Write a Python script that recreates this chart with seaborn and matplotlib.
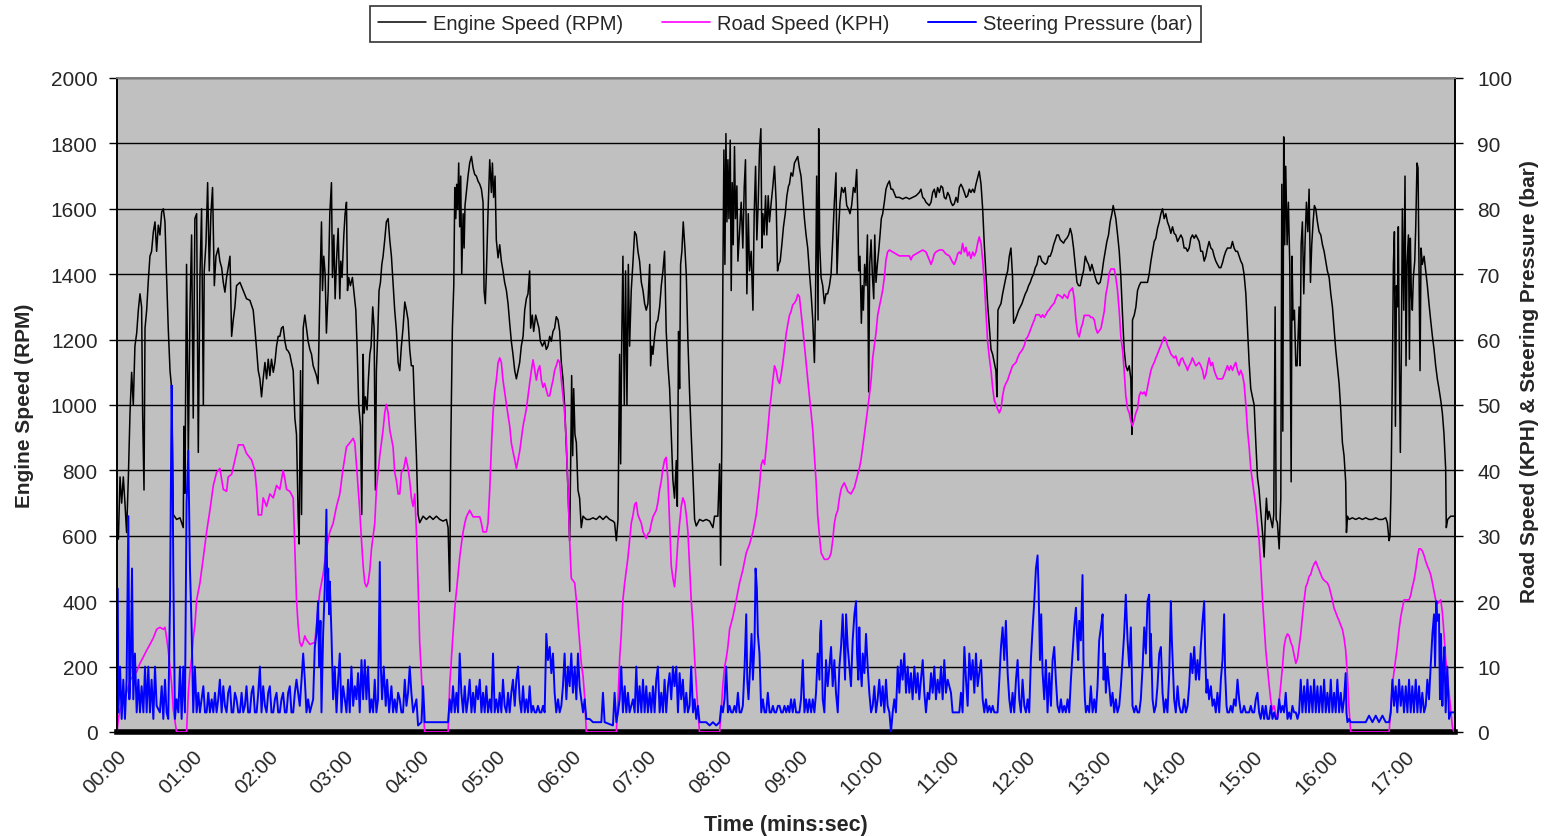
import numpy as np
import pandas as pd
import matplotlib
matplotlib.use("Agg")
import matplotlib.pyplot as plt
import matplotlib.transforms as mtrans
from matplotlib.lines import Line2D
import seaborn as sns

# ---------------- data (time in seconds, value) ----------------
engine_speed = [
(0.0,600),(1.1,590),(2.4,780),(3.7,700),(5.0,780),(6.3,700),(7.6,610),(9.0,780),(10.3,975),(11.6,1100),(12.9,1000),(14.2,1180),(15.6,1220),(16.9,1290),(18.2,1340),(19.5,1300),(20.3,975),(21.4,740),(22.2,1235),(23.5,1290),(24.8,1380),(26.1,1455),(27.4,1470),(28.8,1530),(30.1,1560),(31.4,1470),(32.7,1550),(34.0,1520),(35.4,1590),(36.7,1600),(38.0,1560),(39.3,1390),(40.6,1235),(42.0,1105),(43.3,1050),(44.6,665),(47.2,650),(49.9,655),(51.2,640),(52.5,625),(53.0,935),(53.8,730),(55.1,1430),(56.5,845),(57.8,1290),(59.1,1520),(60.4,960),(61.7,1570),(63.1,1585),(64.4,855),(65.7,1390),(67.0,1600),(68.4,1000),(69.1,1410),(70.5,1495),(71.8,1680),(73.1,1410),(74.4,1585),(75.7,1665),(77.1,1365),(78.4,1455),(80.2,1480),(81.5,1440),(82.9,1420),(84.2,1375),(85.5,1345),(86.8,1390),(88.1,1420),(89.5,1455),(90.8,1210),(92.1,1260),(93.4,1300),(94.7,1365),(97.4,1375),(100.0,1350),(102.6,1325),(105.3,1320),(107.9,1290),(109.2,1235),(110.6,1170),(111.9,1105),(113.2,1080),(114.5,1025),(115.8,1080),(117.2,1130),(118.5,1080),(119.8,1140),(121.1,1090),(122.4,1140),(123.8,1100),(125.1,1130),(126.4,1180),(127.7,1210),
(129.0,1210),(130.3,1235),(131.6,1240),(133.0,1195),(134.3,1170),(135.6,1165),(136.9,1155),(138.2,1130),(139.6,1105),(140.9,960),(142.2,910),(143.5,665),(144.3,575),(145.4,1105),(146.2,665),(147.5,1235),(148.8,1275),(150.1,1235),(151.4,1195),(152.8,1170),(154.1,1155),(155.4,1120),(156.7,1105),(158.0,1090),(159.3,1065),(160.1,1220),(161.2,1430),(162.0,1560),(162.8,1350),(163.8,1455),(164.9,1400),(165.9,1220),(167.3,1350),(168.6,1585),(169.9,1680),(170.7,1390),(171.8,1520),(172.8,1325),(173.9,1440),(175.2,1540),(176.5,1325),(177.3,1440),(178.3,1390),(179.7,1520),(180.7,1585),(181.8,1620),(182.6,1350),(183.6,1390),(184.9,1365),(186.5,1390),(187.6,1350),(189.2,1290),(190.2,1180),(191.5,1000),(192.9,935),(193.9,665),(195.0,1155),(195.8,975),(196.8,1025),(198.1,985),(199.2,1080),(200.3,1155),(201.3,1180),(202.6,1300),(203.7,1235),(204.7,740),(205.5,1105),(206.6,1220),(207.6,1350),(208.7,1375),(209.8,1430),(210.8,1455),(212.1,1505),(213.4,1560),(214.8,1570),(216.1,1505),(217.4,1455),(218.7,1375),(220.0,1290),(221.4,1225),(222.7,1130),(224.0,1105),(225.3,1180),(226.6,1235),(228.0,1315),(229.3,1290),(230.6,1260),(231.9,1170),(233.2,1120),(234.6,1120),(235.9,975),(237.2,845),(238.5,665),(239.8,640),(242.5,660),(245.1,650),(247.8,660),(250.4,650),(253.0,660),(255.7,650),(258.3,645),(261.0,650),(262.3,625),
(263.6,430),(264.4,870),(265.7,1235),(266.8,1365),(267.6,1665),(268.4,1570),(269.1,1675),(269.9,1600),(270.7,1740),(271.5,1545),(272.3,1700),(273.1,1400),(274.2,1585),(275.0,1480),(275.7,1610),(276.8,1650),(278.1,1700),(279.4,1740),(280.8,1760),(282.1,1725),(283.4,1705),(284.7,1700),(286.0,1685),(287.4,1675),(288.7,1660),(290.0,1620),(290.8,1350),(291.8,1310),(292.6,1400),(293.9,1585),(295.3,1750),(296.6,1650),(297.4,1740),(298.4,1635),(299.5,1700),(300.5,1505),(301.9,1450),(303.2,1490),(304.5,1440),(305.8,1410),(307.1,1375),(308.5,1350),(309.8,1310),(311.1,1250),(312.4,1195),(313.7,1155),(315.1,1105),(316.4,1080),(317.7,1105),(319.0,1130),(320.3,1180),(321.7,1210),(323.0,1290),(324.3,1325),(325.6,1340),(326.9,1410),(327.7,1235),(329.0,1275),(330.1,1225),(331.7,1275),(332.7,1260),(334.3,1235),(335.4,1195),(337.0,1180),(338.8,1195),(340.1,1170),(341.4,1180),(342.8,1210),(344.1,1195),(345.4,1225),(346.7,1235),(348.0,1270),(349.4,1260),(350.7,1225),(352.0,1130),(353.3,1080),(354.6,1000),(356.0,870),(357.3,740),(358.6,585),(359.4,820),(360.2,1090),(361.0,845),(361.8,1050),(362.8,910),(363.9,885),(365.2,740),(366.5,715),(367.8,625),(369.2,660),(371.8,650),(374.4,650),(377.1,655),(379.7,650),(382.4,660),(385.0,650),(387.6,660),(390.3,650),(392.9,645),(394.2,640),(395.6,585),(396.9,650),
(398.2,1155),(399.0,820),(399.8,1180),(400.8,1455),(401.9,1000),(402.9,1410),(404.0,1000),(405.1,1430),(406.1,1180),(407.4,1350),(408.8,1440),(410.1,1530),(411.4,1520),(412.7,1470),(414.0,1440),(415.4,1375),(416.7,1350),(418.0,1310),(419.3,1290),(420.6,1310),(422.0,1430),(422.7,1120),(423.8,1180),(424.6,1155),(425.9,1210),(427.2,1250),(428.5,1260),(429.9,1300),(431.2,1365),(432.5,1410),(433.8,1470),(435.1,1225),(436.5,1120),(437.8,1050),(439.1,910),(440.4,770),(441.7,715),(443.1,830),(443.9,690),(444.9,1225),(445.7,1050),(446.5,1430),(447.5,1470),(448.6,1560),(449.9,1480),(451.0,1400),(452.3,1195),(453.6,1040),(454.9,910),(456.3,780),(457.6,650),(458.9,630),(461.5,650),(464.2,645),(466.8,650),(469.5,645),(472.1,625),(473.4,660),(476.0,660),(477.4,820),(478.2,510),(479.2,910),(480.0,1390),(480.8,1780),(481.6,1430),(482.4,1830),(483.2,1560),(484.0,1750),(484.8,1570),(485.8,1810),(486.6,1350),(487.4,1680),(488.2,1490),(489.2,1790),(490.0,1570),(491.1,1670),(491.9,1440),(493.2,1530),(494.5,1620),(495.8,1480),(496.9,1665),(497.9,1750),(499.0,1340),(500.1,1585),(501.1,1410),(502.4,1470),(503.8,1290),(504.8,1585),(505.9,1730),(506.9,1505),(508.0,1620),(509.0,1780),(510.1,1845),(510.9,1480),(511.7,1585),(512.7,1520),(513.8,1640),(514.8,1520),(515.9,1640),(516.9,1560),(518.3,1620),(519.6,1670),(520.9,1730),(522.2,1620),(523.3,1410),(524.3,1430),(525.4,1440),(526.7,1490),(528.0,1545),(529.4,1585),(530.7,1640),(532.0,1670),
(532.7,1675),(534.0,1710),(535.3,1700),(536.7,1740),(538.0,1750),(539.3,1760),(540.6,1725),(541.9,1700),(543.3,1635),(544.6,1570),(545.9,1520),(547.2,1480),(548.5,1410),(549.9,1340),(551.2,1260),(552.5,1130),(553.3,1290),(554.3,1700),(555.4,1260),(555.9,1845),(556.7,1490),(557.8,1390),(559.1,1365),(560.4,1310),(561.7,1340),(563.0,1340),(564.4,1365),(565.7,1400),(567.0,1505),(568.3,1620),(569.6,1710),(570.4,1400),(571.8,1545),(572.8,1620),(574.1,1665),(575.5,1650),(576.8,1665),(578.1,1610),(579.4,1600),(580.7,1585),(582.0,1610),(583.4,1665),(584.7,1650),(586.0,1720),(586.8,1600),(587.6,1410),(588.6,1455),(589.7,1250),(590.5,1365),(591.3,1290),(592.3,1430),(593.4,1365),(594.5,1520),(595.5,1040),(596.3,1430),(597.4,1505),(598.4,1400),(599.5,1325),(600.3,1520),(601.3,1375),(602.4,1430),(603.4,1470),(604.5,1520),(605.5,1570),(606.6,1585),(607.9,1620),(609.2,1660),(610.5,1675),(611.9,1685),(613.2,1660),(614.5,1660),(617.1,1635),(619.8,1635),(622.4,1630),(625.1,1635),(627.7,1630),(630.3,1635),(633.0,1640),(635.6,1650),(636.9,1660),(638.3,1635),(639.6,1630),(640.9,1620),(642.2,1615),(643.5,1610),(644.9,1620),(646.2,1650),(647.5,1660),(648.8,1635),(650.1,1665),(651.5,1650),(652.8,1670),(654.1,1665),(655.4,1635),(656.7,1630),(658.1,1650),(659.4,1640),(660.7,1620),(662.0,1610),(663.3,1615),(664.7,1635),(666.0,1620),
(667.3,1665),(668.6,1675),(669.9,1665),(671.3,1650),(672.6,1635),(673.9,1640),(675.2,1660),(676.5,1650),(677.9,1660),(679.2,1650),(680.5,1675),(681.8,1695),(683.1,1715),(684.5,1675),(685.8,1600),(687.1,1490),(688.4,1400),(689.7,1310),(691.1,1235),(692.4,1170),(693.7,1155),(695.0,1130),(696.3,1105),(697.1,1025),(697.9,1290),(699.0,1300),(700.3,1310),(701.6,1340),(702.9,1365),(704.2,1390),(705.6,1410),(706.9,1455),(708.2,1480),(709.5,1390),(710.3,1250),(711.6,1260),(713.0,1275),(714.3,1290),(715.6,1300),(716.9,1310),(718.2,1325),(719.6,1340),(720.9,1350),(722.2,1365),(723.5,1375),(724.8,1390),(726.1,1400),(727.5,1420),(728.8,1430),(730.1,1455),(731.4,1455),(732.7,1440),(734.1,1435),(735.4,1430),(736.7,1435),(738.0,1455),(739.3,1455),(740.7,1470),(742.0,1490),(743.3,1505),(744.6,1520),(745.9,1520),(747.3,1505),(748.6,1500),(749.9,1495),(751.2,1505),(752.5,1510),(753.9,1520),(755.2,1540),(756.5,1520),(757.8,1480),(759.1,1430),(760.5,1375),(761.8,1365),(763.1,1365),(764.4,1390),(765.7,1410),(767.1,1455),(768.4,1440),(769.7,1430),(771.0,1410),(772.3,1430),(773.7,1410),(775.0,1390),(776.3,1375),(777.6,1370),(778.9,1375),(780.2,1400),(781.6,1440),(782.9,1470),(784.2,1500),(785.5,1520),(786.8,1560),(788.2,1585),(789.2,1610),(790.3,1590),(791.3,1570),(792.7,1520),(794.0,1470),(795.3,1390),(796.6,1275),(797.9,1170),(799.2,1120),(800.6,1105),
(801.9,1120),(803.2,1080),(804.0,910),(804.5,1260),(805.9,1275),(807.2,1300),(808.5,1350),(809.8,1365),(811.1,1375),(813.8,1375),(816.4,1375),(817.7,1400),(819.1,1440),(820.4,1470),(821.7,1500),(823.0,1510),(824.3,1540),(825.7,1560),(827.0,1585),(828.3,1600),(829.6,1570),(830.9,1585),(832.2,1560),(833.6,1545),(834.9,1525),(836.2,1545),(837.5,1525),(838.8,1520),(840.2,1500),(841.5,1510),(842.8,1520),(844.1,1510),(845.4,1480),(846.8,1480),(848.1,1470),(849.4,1480),(850.7,1510),(852.0,1520),(853.4,1510),(854.7,1520),(856.0,1510),(857.3,1500),(858.6,1470),(860.0,1470),(861.3,1440),(862.6,1455),(863.9,1480),(865.2,1500),(866.6,1480),(867.9,1475),(869.2,1455),(870.5,1440),(871.8,1430),(873.2,1420),(874.5,1420),(875.8,1435),(877.1,1455),(878.4,1470),(879.7,1480),(882.4,1480),(883.7,1500),(885.0,1480),(886.3,1470),(887.7,1470),(889.0,1455),(890.3,1440),(891.6,1430),(892.9,1400),(894.3,1340),(895.6,1235),(896.9,1130),(898.2,1050),(899.5,1025),(900.9,1000),(902.2,885),(903.5,780),(904.8,740),(906.1,675),(907.5,610),(908.8,535),(909.6,635),(910.6,715),(911.7,650),(912.7,675),(914.1,650),(915.4,625),(916.4,665),(917.5,1300),(918.3,650),(919.3,640),(920.7,560),(922.0,715),(922.8,1675),(923.6,920),(924.3,1820),(925.1,1490),(925.9,1730),(927.0,1490),(928.0,1620),(929.1,1430),(930.2,765),(930.9,1455),(931.7,1260),(932.8,1290),(933.9,1120),(934.9,1120),(935.9,1235),
(936.5,1300),(937.3,1120),(938.1,1490),(939.1,1560),(940.2,1340),(941.3,1510),(942.3,1620),(943.4,1530),(944.4,1660),(945.5,1375),(946.5,1490),(947.6,1560),(948.6,1610),(949.7,1600),(951.0,1560),(952.3,1530),(953.7,1520),(955.0,1490),(956.3,1470),(957.6,1440),(958.9,1410),(960.3,1390),(961.6,1340),(962.9,1300),(964.2,1235),(965.5,1170),(966.8,1120),(968.2,1065),(969.5,985),(970.8,885),(972.1,845),(973.4,765),(974.0,610),(974.8,660),(976.1,650),(978.7,655),(981.4,650),(984.0,655),(986.6,650),(989.3,655),(991.9,650),(994.6,650),(997.2,655),(999.8,650),(1002.5,650),(1005.1,655),(1006.4,640),(1007.8,585),(1008.5,600),(1009.3,740),(1010.4,1105),(1011.2,1430),(1012.0,1530),(1012.8,935),(1013.6,1365),(1014.4,1300),(1015.1,1545),(1015.9,1140),(1016.7,855),(1017.5,1170),(1018.3,1600),(1019.4,1290),(1020.4,1700),(1021.2,1120),(1022.0,1430),(1023.1,1520),(1023.9,1140),(1024.6,1510),(1025.4,1340),(1026.2,1290),(1027.0,1390),(1028.1,1440),(1028.9,1545),(1029.9,1740),(1030.7,1725),(1031.5,1430),(1032.3,1105),(1033.1,1480),(1034.1,1430),(1035.5,1455),(1036.8,1410),(1038.1,1365),(1039.4,1310),(1040.7,1260),(1042.1,1210),(1043.4,1170),(1044.7,1120),(1046.0,1080),(1047.3,1050),(1048.7,1015),(1050.0,975),(1051.3,910),(1052.6,805),(1053.1,625),(1054.2,650),(1056.6,660),(1059.2,660),
]

road_speed = [
(0.0,0),(1.1,2),(2.4,3.4),(5.0,4.7),(7.6,6),(10.3,7.9),(12.9,8.6),(15.6,9.2),(18.2,10.5),(20.9,11.5),(23.5,12.5),(26.1,13.4),(28.8,14.4),(31.4,15.7),(34.0,16),(36.7,15.7),(38.0,16),(39.3,14.4),(40.6,12.5),(42.0,9.9),(43.3,7.3),(44.6,3.4),(47.2,0),(55.1,0),(56.5,6),(57.8,9.2),(59.1,11.2),(60.4,14.4),(61.7,16.3),(63.1,20.2),(65.7,22.8),(68.4,26.7),(71.0,30.6),(73.6,33.9),(76.3,37.7),(78.9,39.7),(81.5,40.3),(84.2,37.1),(86.8,36.8),(88.1,39),(90.8,39.4),(93.4,41.6),(96.1,43.9),(100.0,43.9),(102.6,42.6),(106.6,41.6),(109.2,40),(110.6,37.1),(111.9,33.2),(114.5,33.2),(115.8,35.8),(118.5,34.5),(121.1,36.4),(123.8,35.8),(126.4,37.7),
(129.0,37.1),(131.6,40),(133.0,38.7),(134.3,37.1),(136.9,36.8),(139.6,35.8),(140.9,28),(142.2,20.2),(143.5,16.3),(144.8,13.7),(146.2,13.1),(147.5,13.7),(148.8,14.7),(150.1,14.1),(152.8,13.4),(156.7,13.7),(158.0,16.3),(159.3,18.9),(160.7,21.5),(163.3,24.1),(165.9,28),(168.6,30.6),(171.2,31.9),(173.9,34.5),(176.5,36.4),(179.1,40.3),(181.8,43.6),(184.4,44.2),(187.1,44.9),(188.4,44.2),(189.7,40.9),(192.3,33.9),(193.7,29.3),(195.0,25.4),(196.3,22.8),(197.6,22.2),(198.9,22.8),(200.3,24.8),(201.6,28),(204.2,31.9),(205.5,37.1),(208.2,42.3),(210.8,46.2),(212.1,48.8),(213.4,50.1),(214.8,48.8),(216.1,46.2),(218.7,43.6),(220.0,39.7),(221.4,38.4),(222.7,36.4),(224.0,36.4),(225.3,39.7),(227.2,40.3),(228.8,42),(230.6,40.3),(231.9,38.4),(233.2,35.8),(234.6,34.5),(235.9,36.4),(237.2,30.6),(238.5,22.8),(239.8,13.7),(241.2,8.6),(242.5,3.4),(243.8,0),(262.3,0),
(263.6,7.3),(264.9,11.2),(266.2,15),(267.6,18.9),(268.9,21.5),(270.2,24.1),(271.5,26.7),(272.8,28.7),(274.2,30.6),(275.5,31.9),(276.8,32.9),(279.4,33.9),(282.1,32.9),(287.4,32.9),(288.7,31.9),(290.0,30.6),(292.6,30.6),(293.9,31.9),(295.3,37.1),(296.6,43.6),(297.9,48.8),(299.2,52),(300.5,53.8),(301.9,56.5),(303.2,57.2),(304.5,56.5),(305.8,53.8),(308.5,50.1),(311.1,46.8),(312.4,44.2),(313.7,42.9),(315.1,41.6),(316.4,40.3),(317.7,41.6),(319.0,42.9),(321.7,46.8),(324.3,49.4),(325.6,51.4),(326.9,53.3),(328.3,55.3),(329.6,56.9),(330.9,55.3),(332.2,53.8),(333.5,55.3),(334.9,56),(336.2,53.8),(337.5,52.7),(338.8,53.3),(340.1,52.3),(341.4,51.4),(342.8,51.4),(344.1,52.7),(345.4,53.8),(346.7,55.3),(348.0,56),(349.4,56.9),(350.7,56.5),(352.0,53.8),(353.3,51.4),(354.6,48.8),(356.0,44.2),(357.3,37.1),(358.6,29.3),(359.9,23.5),(362.6,22.8),(363.9,20.2),(365.2,17),(366.5,13.7),(367.8,10.5),(369.2,8.6),(370.5,5.3),(371.8,0),(395.6,0),(396.9,4.7),
(398.2,11.2),(399.5,15),(400.8,20.2),(402.2,22.8),(403.5,24.8),(404.8,26.7),(406.1,29.3),(407.4,31.9),(408.8,33.2),(410.1,34.8),(411.4,35.1),(412.7,33.2),(415.4,31.9),(416.7,30.6),(419.3,29.6),(420.6,30.3),(422.0,30.6),(423.3,31.9),(424.6,32.9),(427.2,33.9),(428.5,35.1),(429.9,37.1),(431.2,38.4),(432.5,40.3),(433.8,41.6),(435.1,42),(436.5,38.4),(437.8,31.9),(439.1,25.4),(440.4,23.5),(441.7,22.2),(443.1,25.4),(444.4,29.3),(445.7,31.9),(447.0,34.5),(448.3,35.8),(449.7,35.1),(451.0,33.2),(452.3,30.6),(453.6,25.4),(454.9,20.2),(456.3,16.3),(457.6,11.2),(458.9,7.3),(460.2,3.4),(461.5,0),(477.4,0),(478.7,3.4),(480.0,7.3),(481.3,9.9),(482.6,11.2),(484.0,13.1),(485.3,15.7),(487.9,17.6),(490.6,20.2),(493.2,22.8),(495.8,24.8),(498.5,27.4),(501.1,28.7),(503.8,30.6),(506.4,33.2),(509.0,37.7),(510.4,40.9),(511.7,41.6),(513.0,40.9),(514.3,43.6),(515.6,46.2),(517.0,49.4),(518.3,51.4),(519.6,53.8),(520.9,56),(522.2,55.3),(523.6,53.8),(524.9,53.3),(526.2,54.7),(527.5,56.5),(528.8,58.5),(530.2,61),(531.5,62.4),
(532.7,63.7),(534.0,64.3),(535.3,65.3),(536.7,65.6),(538.0,66),(539.3,66.9),(540.6,66.6),(541.9,64.3),(543.3,61.7),(544.6,59.1),(545.9,56.5),(547.2,53.8),(548.5,51.4),(549.9,48.8),(551.2,46.2),(552.5,42.3),(553.8,38.4),(555.1,33.2),(556.5,30),(557.8,27.4),(560.4,26.4),(563.0,26.4),(564.4,26.7),(565.7,27.4),(567.0,29.3),(568.3,31.9),(569.6,33.2),(571.0,33.9),(572.3,35.8),(573.6,37.1),(574.9,37.7),(576.2,38.1),(578.9,36.8),(581.5,36.4),(584.2,37.4),(585.5,38.4),(586.8,39.4),(588.1,40.3),(589.4,41.6),(590.8,43.6),(592.1,45.5),(593.4,47.5),(594.7,49.4),(596.0,51.4),(597.4,53.8),(598.7,57.2),(600.0,59.1),(601.3,61),(602.6,63.7),(603.9,65),(605.3,66.3),(606.6,67.6),(607.9,69.5),(609.2,72.2),(610.5,73.4),(611.9,73.7),(614.5,73.4),(617.1,73.1),(619.8,72.8),(627.7,72.8),(629.0,72.2),(630.3,72.8),(633.0,73.1),(635.6,73.4),(638.3,73.7),(640.9,73.4),(642.2,72.8),(643.5,72.2),(644.9,71.5),(646.2,72.2),(647.5,73.1),(648.8,73.4),(651.5,73.7),(654.1,73.7),(656.7,73.1),(659.4,72.8),(662.0,71.8),(663.3,71.5),(664.7,72.2),(666.0,73.1),
(667.3,73.4),(668.6,73.1),(669.9,74.7),(671.3,73.4),(672.6,74.1),(673.9,72.8),(675.2,73.4),(676.5,72.4),(677.9,73.4),(679.2,72.8),(680.5,73.4),(681.8,74.7),(683.1,75.7),(684.5,74.7),(685.8,72.2),(687.1,68.9),(688.4,64.3),(689.7,59.7),(691.1,57.2),(692.4,55.3),(693.7,52.7),(695.0,50.7),(696.3,50.1),(697.6,49.4),(699.0,48.8),(700.3,49.4),(701.6,51.4),(702.9,52.7),(704.2,53.3),(705.6,53.8),(706.9,54.6),(708.2,55.3),(709.5,56),(712.2,56.5),(713.5,57.2),(714.8,57.8),(717.4,58.5),(718.8,59.1),(720.1,60.1),(721.4,60.4),(722.7,61),(724.0,61.7),(725.4,62.4),(726.7,63),(728.0,63.8),(730.6,63.8),(732.0,63.4),(733.3,63.8),(734.6,63.4),(735.9,63.8),(737.2,64.3),(738.6,64.6),(739.9,65),(741.2,65.3),(742.5,65.6),(743.8,66.3),(745.1,66.9),(747.8,66.6),(749.1,66.3),(750.4,66.9),(751.7,66.6),(753.1,66.3),(754.4,67.3),(755.7,67.6),(757.0,67.9),(758.3,66.3),(759.7,63),(761.0,61),(762.3,60.4),(763.6,61.7),(764.9,62.4),(766.3,63.7),(770.2,63.7),(771.5,63.4),(772.9,63.4),(774.2,63),(775.5,61.7),(776.8,61),(779.5,61.7),(780.8,63),(782.1,64.3),(783.4,66.9),(784.7,68.2),(786.1,70.2),(787.4,70.8),(790.0,70.8),(791.3,69.5),(792.6,67.6),(794.0,64.3),(795.3,60.4),(796.6,58.5),(797.9,55.3),(799.2,51.4),(800.6,49.4),
(801.9,48.8),(803.2,47.5),(804.5,46.8),(805.9,47.8),(807.2,48.8),(808.5,49.4),(809.8,51.4),(811.1,52),(812.5,51.7),(813.8,52),(815.1,51.4),(816.4,52.7),(817.7,54),(819.1,55.3),(820.4,56),(821.7,56.5),(823.0,57.2),(824.3,57.8),(825.7,58.5),(827.0,59.1),(828.3,59.8),(829.6,60.4),(830.9,60.1),(832.2,59.1),(833.6,58.5),(834.9,57.8),(836.2,57.5),(837.5,57.2),(838.8,57.5),(840.2,56.5),(841.5,56),(842.8,57),(844.1,57.2),(845.4,56.5),(846.8,56),(848.1,55.3),(849.4,56),(850.7,56.5),(852.0,57.2),(853.4,56.5),(854.7,56),(857.3,56.5),(858.6,56),(860.0,55.3),(861.3,54),(862.6,54.6),(863.9,56),(865.2,57.2),(866.6,56),(867.9,56.5),(869.2,55.3),(870.5,54.6),(871.8,54),(875.8,54),(877.1,54.6),(878.4,55.3),(879.7,56),(881.1,55.3),(882.4,56),(883.7,55.3),(885.0,56),(886.3,56.5),(887.7,55.3),(889.0,54.6),(890.3,55.3),(891.6,54.6),(892.9,53.3),(894.3,50.1),(895.6,46.2),(896.9,43.6),(898.2,40.3),(899.5,38.4),(900.9,36.4),(902.2,34.5),(903.5,31.9),(904.8,29.3),(906.1,25.4),(907.5,20.2),(908.8,16.3),(910.1,12.5),(911.4,9.9),(912.7,7.3),(914.1,4.7),(915.4,3.4),(916.7,4),(918.0,2.7),(919.3,2.1),(920.7,4.7),(922.0,7.3),(923.3,9.9),(924.6,13.1),(925.9,14.4),(927.3,15),(928.6,14.7),(929.9,13.7),(931.2,13.1),(932.5,11.8),(933.9,10.5),(935.2,11.2),
(937.8,15),(939.1,17.6),(940.5,20.2),(941.8,22.2),(943.1,22.8),(944.4,23.8),(945.7,24.1),(947.1,25.1),(948.4,25.7),(949.7,26.1),(951.0,25.4),(952.3,24.8),(953.7,24.1),(955.0,23.5),(956.3,23.2),(958.9,22.8),(960.3,22.2),(961.6,21.2),(962.9,20.2),(964.2,18.9),(965.5,18.3),(966.8,17.6),(968.2,17),(969.5,16.3),(970.8,15.7),(972.1,14.4),(973.4,12.5),(974.8,8.6),(976.1,3.4),(977.4,0),(1007.8,0),(1009.1,3.4),(1010.4,7.3),(1011.7,9.2),(1013.0,11.2),(1014.3,13.1),(1015.7,15.7),(1017.0,17.6),(1018.3,18.9),(1019.6,20.2),(1023.6,20.2),(1024.9,20.9),(1026.2,22.2),(1027.5,23.2),(1028.9,24.8),(1030.2,26.7),(1031.5,28),(1032.8,28),(1034.1,27.7),(1035.5,27),(1036.8,26.1),(1038.1,25.4),(1039.4,24.8),(1040.7,24.1),(1042.1,22.8),(1043.4,21.5),(1044.7,20.2),(1046.0,19.6),(1047.3,19.9),(1048.7,20.2),(1050.0,18.3),(1051.3,15),(1052.6,11.2),(1053.9,8.6),(1055.3,6),(1056.6,3.4),(1057.9,0.8),(1059.2,0),
]

steering_pressure = [
(0.0,3),(0.3,22),(1.1,3),(2.4,10),(3.7,2),(5.0,8),(6.3,2),(7.6,8),(9.0,33),(9.8,5),(10.8,10),(11.9,25),(12.9,5),(14.2,12),(15.6,3),(16.9,8),(18.2,3),(19.5,7),(20.9,3),(22.2,10),(23.5,3),(24.8,10),(26.1,3),(27.4,8),(28.8,2),(30.1,10),(31.4,4),(34.0,3),(35.4,7),(36.7,2),(38.0,8),(39.3,3),(40.6,2),(42.0,20),(43.3,53),(44.1,38),(44.6,25),(45.9,2),(47.2,5),(48.6,3),(49.9,10),(51.2,2),(52.5,10),(53.8,3),(55.1,35),(56.5,43),(57.8,25),(59.1,16),(60.4,3),(61.7,10),(63.1,3),(64.4,6),(65.7,3),(67.0,5),(68.4,7),(69.7,3),(71.0,3),(72.3,6),(73.6,3),(75.0,5),(76.3,3),(77.6,6),(78.9,3),(80.2,5),(81.5,8),(82.9,3),(84.2,7),(85.5,4),(86.8,3),(88.1,6),(89.5,7),(90.8,3),(92.1,3),(93.4,6),(94.7,5),(96.1,3),(97.4,3),(98.7,6),(100.0,3),(101.3,4),(102.6,7),(103.9,3),(105.3,3),(106.6,6),(107.9,7),(109.2,3),(110.6,3),(111.9,6),(113.2,10),(114.5,3),(115.8,7),(117.2,4),(118.5,3),(119.8,6),(121.1,7),(122.4,3),(123.8,3),(125.1,5),(126.4,6),(127.7,3),
(129.0,3),(130.3,5),(131.6,6),(133.0,3),(134.3,3),(135.6,6),(136.9,7),(138.2,3),(139.6,3),(140.9,6),(142.2,8),(144.8,4),(146.2,8),(147.5,12),(148.8,8),(150.1,3),(151.4,5),(152.8,3),(154.1,4),(155.4,5),(156.7,13),(158.0,15),(159.3,20),(160.1,10),(161.2,17),(162.0,3),(163.3,15),(164.6,22),(165.9,34),(166.7,20),(167.3,25),(168.1,18),(168.6,23),(169.9,15),(171.2,5),(172.5,10),(173.9,3),(175.2,8),(176.5,12),(177.8,3),(179.1,7),(180.5,5),(181.8,3),(183.1,8),(184.4,3),(185.7,10),(187.1,4),(188.4,7),(189.7,5),(191.0,9),(192.3,3),(193.7,11),(195.0,5),(196.3,11),(197.6,5),(198.9,10),(200.3,3),(201.6,5),(202.9,3),(204.2,8),(205.5,3),(206.8,5),(208.2,26),(209.0,10),(210.0,5),(211.3,10),(212.9,4),(214.0,8),(215.6,3),(217.4,7),(218.7,3),(220.0,5),(221.4,3),(222.7,6),(224.0,5),(225.3,3),(226.6,3),(228.0,8),(229.3,4),(230.6,6),(231.9,10),(233.2,6),(234.6,3),(235.9,4),(237.2,5),(238.5,1),(241.2,1.5),(242.5,7),(243.8,1.5),(262.3,1.5),
(263.6,5),(264.9,3),(266.2,7),(267.6,3),(268.9,6),(270.2,3),(271.5,12),(272.8,6),(274.2,3),(275.5,7),(276.8,3),(278.1,5),(279.4,8),(280.8,3),(282.1,6),(283.4,3),(284.7,7),(286.0,5),(287.4,8),(288.7,3),(290.0,6),(291.3,3),(292.6,7),(293.9,3),(295.3,5),(296.6,3),(297.9,12),(299.2,3),(300.5,5),(301.9,3),(303.2,6),(304.5,3),(305.8,8),(307.1,4),(308.5,3),(309.8,6),(311.1,3),(312.4,6),(313.7,8),(315.1,4),(316.4,8),(317.7,10),(319.0,5),(320.3,3),(321.7,7),(323.0,3),(324.3,5),(325.6,3),(326.9,7),(328.3,3),(329.6,4),(330.9,3),(332.2,3),(333.5,4),(334.9,3),(336.2,3),(337.5,4),(338.8,3),(340.1,15),(341.4,11),(342.8,13),(344.1,9),(345.4,12),(346.7,6),(348.0,3),(349.4,5),(350.7,3),(352.0,4),(353.3,7),(354.6,12),(356.0,5),(357.3,10),(358.6,7),(359.9,12),(361.2,6),(362.6,10),(363.9,5),(365.2,12),(366.5,7),(367.8,5),(369.2,3),(370.5,5),(371.8,2),(374.4,2),(377.1,1.5),(383.7,1.5),(385.0,6),(386.3,1.5),(392.9,1),(394.2,6),(395.6,1.5),(396.9,3),
(398.2,5),(399.5,10),(400.8,3),(402.2,7),(403.5,3),(404.8,6),(406.1,3),(407.4,4),(408.8,5),(410.1,3),(411.4,10),(412.7,3),(414.0,7),(415.4,3),(416.7,8),(418.0,3),(419.3,7),(420.6,3),(422.0,6),(423.3,3),(424.6,7),(425.9,3),(427.2,8),(428.5,10),(429.9,3),(431.2,6),(432.5,3),(433.8,8),(435.1,3),(436.5,7),(437.8,9),(439.1,5),(440.4,10),(441.7,7),(443.1,10),(444.4,3),(445.7,9),(447.0,5),(448.3,8),(449.7,3),(451.0,6),(452.3,3),(453.6,4),(454.9,10),(456.3,3),(457.6,5),(458.9,2),(460.2,4),(461.5,1.5),(466.8,1.5),(469.5,1),(472.1,1.5),(474.7,1),(477.4,1.5),(478.7,4),(480.0,3),(481.3,5),(482.6,10),(484.0,3),(485.3,4),(486.6,3),(487.9,3),(489.2,4),(490.6,3),(491.9,6),(493.2,3),(494.5,3),(495.8,4),(497.2,10),(498.5,18),(499.3,8),(500.3,5),(501.6,10),(502.7,15),(503.8,8),(505.1,14),(505.9,25),(506.9,22),(507.7,15),(509.0,12),(510.4,3),(511.7,5),(513.0,3),(514.3,3),(515.6,6),(517.0,3),(518.3,3),(519.6,4),(520.9,3),(522.2,3),(523.6,4),(524.9,4),(526.2,3),(527.5,3),(528.8,4),(530.2,3),(531.5,4),
(532.7,3),(534.0,5),(535.3,3),(536.7,5),(538.0,3),(540.6,3),(541.9,5),(543.3,11),(544.6,3),(545.9,5),(547.2,3),(548.5,5),(549.9,3),(551.2,5),(552.5,3),(553.8,6),(555.1,12),(556.5,8),(557.0,15),(557.8,17),(558.6,10),(559.1,5),(560.4,3),(561.7,11),(563.0,7),(564.4,10),(565.7,13),(567.0,7),(568.3,11),(569.6,6),(571.0,3),(572.3,10),(573.6,13),(574.9,18),(575.7,14),(576.8,8),(577.6,18),(578.9,13),(580.2,10),(581.5,7),(582.8,14),(584.2,18),(585.5,20),(586.3,12),(587.3,8),(588.1,16),(588.9,10),(590.0,7),(590.8,12),(592.1,9),(593.4,15),(594.7,10),(596.0,6),(597.4,3),(598.7,4),(600.0,7),(601.3,3),(602.6,5),(603.9,8),(605.3,4),(606.6,7),(607.9,3),(609.2,8),(610.5,4),(611.9,3),(613.2,0),(614.5,3),(615.8,5),(617.1,3),(618.5,10),(619.8,6),(621.1,11),(622.4,8),(623.7,12),(625.1,6),(626.4,10),(627.7,6),(629.0,9),(630.3,5),(631.7,10),(633.0,6),(634.3,9),(635.6,5),(636.9,8),(638.3,11),(639.6,6),(640.9,3),(642.2,6),(643.5,5),(644.9,9),(646.2,6),(647.5,10),(648.8,5),(650.1,8),(651.5,6),(652.8,10),(654.1,5),(655.4,11),(656.7,6),(658.1,8),(659.4,7),(660.7,6),(662.0,3),(666.0,3),
(667.3,3),(668.6,6),(669.9,3),(671.3,13),(672.6,8),(673.9,4),(675.2,12),(676.5,8),(677.9,11),(679.2,6),(680.5,12),(681.8,7),(683.1,9),(684.5,11),(685.8,5),(687.1,3),(688.4,5),(689.7,3),(691.1,4),(692.4,3),(693.7,4),(695.0,3),(696.3,3),(697.6,3),(699.0,8),(700.3,13),(701.6,16),(702.9,11),(704.2,17),(705.6,9),(706.9,5),(708.2,3),(709.5,6),(710.8,3),(712.2,8),(713.5,11),(714.8,5),(716.1,3),(717.4,8),(718.8,4),(720.1,3),(721.4,5),(722.7,3),(724.0,11),(725.4,16),(726.7,20),(728.0,25),(729.3,27),(730.1,22),(731.2,11),(732.2,18),(733.3,9),(734.6,5),(735.9,11),(737.2,3),(738.6,9),(739.9,4),(741.2,11),(742.5,13),(743.8,8),(745.1,4),(746.5,3),(747.8,5),(749.1,3),(750.4,4),(751.7,3),(753.1,5),(754.4,3),(755.7,8),(757.0,12),(758.3,16),(759.7,19),(760.5,15),(761.5,11),(762.3,17),(763.6,14),(764.9,24),(765.7,11),(766.8,5),(767.6,3),(768.9,4),(770.2,3),(771.5,7),(772.9,3),(774.2,5),(775.5,3),(776.8,7),(778.1,14),(779.5,16),(780.8,18),(781.6,8),(782.6,12),(783.4,6),(784.7,10),(786.1,7),(787.4,4),(788.7,6),(790.0,3),(791.3,5),(792.6,3),(794.0,4),(795.3,7),(796.6,11),(797.9,15),(799.2,21),(800.6,14),
(801.9,10),(803.2,16),(804.5,4),(805.9,3),(807.2,4),(808.5,3),(809.8,3),(811.1,5),(812.5,10),(813.8,16),(815.1,12),(816.4,20),(817.7,21),(818.5,10),(819.1,15),(820.4,5),(821.7,3),(823.0,4),(824.3,7),(825.7,12),(827.0,13),(828.3,6),(829.6,3),(830.9,5),(832.2,3),(833.6,9),(834.9,20),(835.7,14),(836.7,9),(837.5,5),(838.8,3),(840.2,7),(841.5,4),(842.8,3),(844.1,3),(845.4,5),(846.8,3),(848.1,4),(849.4,7),(850.7,12),(852.0,9),(853.4,13),(854.7,8),(856.0,11),(857.3,8),(858.6,13),(860.0,17),(861.3,20),(862.1,12),(863.1,6),(863.9,8),(865.2,5),(866.6,7),(867.9,4),(869.2,5),(870.5,3),(871.8,6),(873.2,3),(874.5,8),(875.8,11),(877.1,18),(877.9,9),(879.0,4),(879.7,3),(881.1,3),(882.4,4),(883.7,3),(885.0,5),(886.3,4),(887.7,8),(889.0,5),(890.3,3),(891.6,3),(892.9,4),(894.3,3),(895.6,3),(896.9,3),(898.2,4),(899.5,3),(900.9,3),(902.2,5),(903.5,6),(904.8,3),(906.1,2),(907.5,4),(908.8,2),(910.1,4),(911.4,2),(912.7,2),(914.1,4),(915.4,2),(916.7,3),(918.0,2),(919.3,2),(920.7,5),(922.0,3),(923.3,4),(924.6,3),(925.9,6),(927.3,2),(928.6,3),(929.9,2),(931.2,4),(932.5,3),(933.9,3),(935.2,2),
(936.5,3),(937.8,8),(939.1,3),(940.5,7),(941.8,3),(943.1,8),(944.4,3),(945.7,7),(947.1,3),(948.4,8),(949.7,3),(951.0,7),(952.3,3),(953.7,7),(955.0,3),(956.3,8),(957.6,3),(958.9,6),(960.3,3),(961.6,8),(962.9,3),(964.2,6),(965.5,3),(966.8,8),(968.2,3),(969.5,6),(970.8,3),(972.1,5),(973.4,9),(974.0,3),(974.8,1.5),(976.1,2),(977.4,1.5),(989.3,1.5),(991.9,2.5),(994.6,1.5),(997.2,2.5),(999.8,1.5),(1002.5,2.5),(1005.1,1.5),(1007.8,1.5),(1009.1,3),(1010.4,8),(1011.7,4),(1013.0,7),(1014.3,3),(1015.7,8),(1017.0,4),(1018.3,7),(1019.6,3),(1021.0,7),(1022.3,3),(1023.6,8),(1024.9,3),(1026.2,7),(1027.5,3),(1028.9,8),(1030.2,3),(1031.5,7),(1032.8,3),(1034.1,6),(1035.5,3),(1036.8,4),(1038.1,8),(1039.4,5),(1040.7,10),(1042.1,15),(1043.4,18),(1044.2,10),(1045.2,20),(1046.0,17),(1047.3,18),(1048.1,5),(1048.9,15),(1050.0,4),(1050.8,10),(1051.6,13),(1052.6,3),(1053.9,10),(1055.3,2),(1056.6,3),(1059.2,3),
]

series_names = ["Engine Speed (RPM)", "Road Speed (KPH)", "Steering Pressure (bar)"]
tick_minutes = list(range(0, 18))
tick_labels = [f"{m:02d}:00" for m in tick_minutes]
t_end = 1060

# ---------------- figure ----------------
sns.set_theme(style="white")
plt.rcParams['font.family'] = ['Liberation Sans', 'DejaVu Sans']

W, H = 1547, 837
fig = plt.figure(figsize=(W / 100, H / 100), dpi=100)
L, R, T, B = 117, 1455, 79, 733
ax = fig.add_axes([L / W, 1 - B / H, (R - L) / W, (B - T) / H])
ax.set_facecolor('#C0C0C0')
ax2 = ax.twinx()

eng = pd.DataFrame(engine_speed, columns=['t', 'v'])
road = pd.DataFrame(road_speed, columns=['t', 'v'])
steer = pd.DataFrame(steering_pressure, columns=['t', 'v'])

sns.lineplot(data=eng, x='t', y='v', ax=ax, color='black', lw=1.1,
             sort=False, estimator=None, legend=False)
sns.lineplot(data=road, x='t', y='v', ax=ax2, color='#FF00FF', lw=1.2,
             sort=False, estimator=None, legend=False)
sns.lineplot(data=steer, x='t', y='v', ax=ax2, color='#0000FF', lw=1.4,
             sort=False, estimator=None, legend=False)

ax.set_xlim(0, t_end)
ax.set_ylim(0, 2000)
ax2.set_ylim(0, 100)
ax.set_yticks(range(0, 2001, 200))
ax2.set_yticks(range(0, 101, 10))
ax.set_xticks([m * 60 for m in tick_minutes])
ax.set_xticklabels(tick_labels, rotation=45, ha='right', va='top',
                   rotation_mode='anchor')
offset = mtrans.ScaledTranslation(6 / 100, 0, fig.dpi_scale_trans)
for lab in ax.get_xticklabels():
    lab.set_transform(lab.get_transform() + offset)

ax.set_axisbelow(True)
ax.yaxis.grid(True, color='black', lw=1.0)
ax.xaxis.grid(False)

fs = 15
ax.tick_params(axis='y', which='both', length=6, width=1, color='black',
               labelsize=fs, pad=8, direction='out', left=True)
ax.tick_params(axis='x', length=0, labelsize=fs, pad=10)
ax2.tick_params(axis='y', length=6, width=1, color='black', labelsize=fs,
                pad=10, direction='out', right=True)

for sp in ['left', 'right']:
    ax.spines[sp].set_color('black')
    ax2.spines[sp].set_color('black')
    ax.spines[sp].set_linewidth(1.2)
    ax2.spines[sp].set_linewidth(1.2)
ax.spines['top'].set_color('#808080')
ax2.spines['top'].set_color('#808080')
ax.spines['bottom'].set_color('black')
ax.spines['bottom'].set_linewidth(4)
ax2.spines['bottom'].set_visible(False)

ax.set_xlabel("Time (mins:sec)", fontsize=15.5, fontweight='bold', va='center')
ax.xaxis.set_label_coords(0.5, -0.141)
ax.set_ylabel("Engine Speed (RPM)", fontsize=15, fontweight='bold', va='center')
ax.yaxis.set_label_coords(-0.0688, 0.5)
ax2.set_ylabel("Road Speed (KPH) & Steering Pressure (bar)", fontsize=15,
               fontweight='bold', rotation=90, va='center')
ax2.yaxis.set_label_coords(1.056, 0.538)

handles = [Line2D([], [], color='black', lw=1.1),
           Line2D([], [], color='#FF00FF', lw=1.2),
           Line2D([], [], color='#0000FF', lw=1.4)]
leg = fig.legend(handles, series_names, loc='center', ncol=3,
                 bbox_to_anchor=(785.5 / W, 1 - 25 / H), fontsize=14.5,
                 frameon=True, fancybox=False, edgecolor='black',
                 handlelength=2.4, handletextpad=0.35, columnspacing=1.9,
                 borderpad=0.4)
leg.get_frame().set_linewidth(1.2)

fig.savefig("out.png", dpi=100, facecolor='white')
